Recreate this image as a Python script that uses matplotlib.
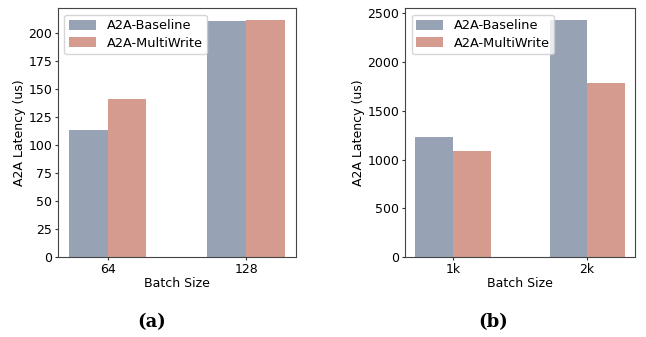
import numpy as np
import matplotlib
matplotlib.use('Agg')
import matplotlib.pyplot as plt

series = ['A2A-Baseline', 'A2A-MultiWrite']
colors = ['#97a3b4', '#d49b8e']

batch_a = ['64', '128']
baseline_a = [113, 210.5]
multiwrite_a = [141, 211.3]

batch_b = ['1k', '2k']
baseline_b = [1230, 2430]
multiwrite_b = [1086, 1785]

fig = plt.figure(figsize=(6.46, 3.37), dpi=100)
ax_a = fig.add_axes([0.0898, 0.237, 0.368, 0.739])
ax_b = fig.add_axes([0.627, 0.237, 0.356, 0.739])

width = 0.28
fs = 9
for ax, cats, base, mw, tag, tx in [
    (ax_a, batch_a, baseline_a, multiwrite_a, '(a)', 0.234),
    (ax_b, batch_b, baseline_b, multiwrite_b, '(b)', 0.763),
]:
    x = np.arange(len(cats))
    ax.bar(x - width / 2, base, width, color=colors[0], label=series[0])
    ax.bar(x + width / 2, mw, width, color=colors[1], label=series[1])
    ax.set_xticks(x)
    ax.set_xticklabels(cats)
    ax.tick_params(labelsize=fs, length=2.5, pad=1.5, color='#333333')
    ax.set_xlabel('Batch Size', fontsize=fs, labelpad=1)
    ax.set_ylabel('A2A Latency (us)', fontsize=fs, labelpad=2)
    for s in ax.spines.values():
        s.set_color('#444444')
    ax.legend(fontsize=9.3, loc='upper left', handlelength=2.1, handleheight=0.8,
              borderpad=0.35, labelspacing=0.35, handletextpad=0.8)
    fig.text(tx, 0.045, tag, ha='center', va='center', fontsize=13,
             fontweight='bold', family='DejaVu Serif')

plt.savefig('out.png', dpi=100)
plt.close()
